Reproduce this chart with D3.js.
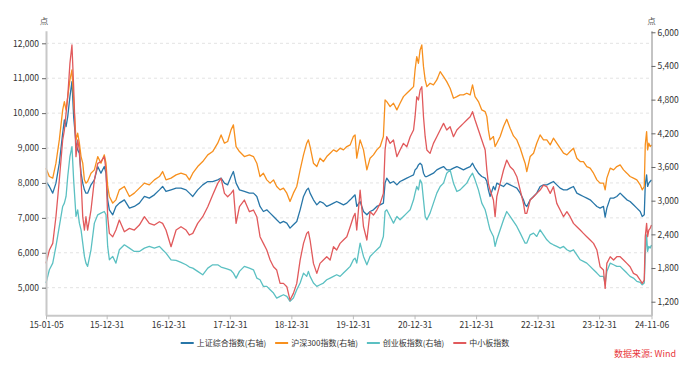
<!DOCTYPE html>
<html><head><meta charset="utf-8">
<script src="https://cdn.jsdelivr.net/npm/d3@7"></script>
<style>body{margin:0;background:#fff} text{font-family:"Noto Sans CJK SC","Noto Sans",sans-serif}</style>
</head><body><svg id="c" width="693" height="367"></svg>
<script>
const dates=["2015-01-05","2015-01-25","2015-02-14","2015-03-05","2015-03-25","2015-04-14","2015-04-24","2015-05-04","2015-05-14","2015-05-27",
"2015-06-08","2015-06-18","2015-07-02","2015-07-12","2015-07-22","2015-08-01","2015-08-11","2015-08-21","2015-08-30","2015-09-09",
"2015-09-29","2015-10-19","2015-11-08","2015-11-27","2015-12-17","2015-12-27","2016-01-06","2016-01-16","2016-02-05","2016-02-24",
"2016-03-15","2016-04-14","2016-05-14","2016-06-12","2016-07-12","2016-08-11","2016-09-09","2016-10-09","2016-11-08","2016-11-27",
"2016-12-17","2017-01-16","2017-02-15","2017-03-16","2017-04-15","2017-05-05","2017-05-25","2017-06-23","2017-07-23","2017-08-22",
"2017-09-20","2017-10-20","2017-11-09","2017-11-29","2017-12-18","2018-01-07","2018-01-21","2018-02-06","2018-02-26","2018-03-27",
"2018-04-26",
"2018-05-20","2018-06-09","2018-06-28","2018-07-18","2018-08-07","2018-08-27","2018-09-16","2018-10-05","2018-10-25","2018-11-14",
"2018-12-04","2018-12-23","2019-01-12","2019-02-01","2019-02-21","2019-03-13","2019-04-01","2019-04-11","2019-04-21","2019-05-11",
"2019-05-31","2019-06-19","2019-07-09","2019-07-29","2019-08-18","2019-09-07","2019-09-26","2019-10-16","2019-11-05","2019-11-25",
"2019-12-15","2020-01-03","2020-01-13","2020-01-23","2020-02-12","2020-03-03","2020-03-23","2020-04-11","2020-05-01","2020-05-21",
"2020-06-10","2020-06-29","2020-07-09","2020-07-19","2020-08-08","2020-08-28","2020-09-17","2020-10-06","2020-10-26","2020-11-15",
"2020-12-05","2020-12-25","2021-01-03","2021-01-13","2021-01-23","2021-02-02","2021-02-12","2021-02-22","2021-03-04","2021-03-14",
"2021-04-02","2021-04-22","2021-05-12","2021-06-01","2021-06-21","2021-07-10","2021-07-30","2021-08-19",
"2021-09-08","2021-09-27","2021-10-17","2021-11-06","2021-11-26","2021-12-10","2021-12-25","2022-01-14","2022-02-03","2022-02-23",
"2022-03-05","2022-03-14","2022-03-24","2022-04-13","2022-04-23","2022-05-03","2022-05-23","2022-06-12","2022-07-01","2022-07-21",
"2022-08-10","2022-08-30","2022-09-19","2022-10-08","2022-10-18","2022-10-28","2022-11-17","2022-12-07","2022-12-26","2023-01-15",
"2023-02-04","2023-02-24","2023-03-16","2023-04-04","2023-04-24","2023-05-14","2023-06-03","2023-06-23","2023-07-12","2023-08-01",
"2023-08-21","2023-09-10","2023-09-29","2023-10-19","2023-11-08","2023-11-28","2023-12-18","2024-01-06","2024-01-26","2024-02-05",
"2024-02-15","2024-03-06","2024-03-26","2024-04-14","2024-05-04","2024-05-24","2024-06-13","2024-07-02","2024-07-22","2024-08-11",
"2024-08-31","2024-09-12","2024-09-24","2024-09-30","2024-10-08","2024-10-14","2024-10-21","2024-10-29","2024-11-06"];

// 上证综合指数 (right axis)
const sse=[3341,3253,3134,3312,3668,4202,4439,4320,4498,4854,
5121,4498,4024,3905,3846,3490,3312,3193,3134,3134,
3282,3371,3608,3490,3608,3490,3015,2837,2748,2897,
2956,3015,2867,2897,2956,3075,3045,3104,3193,3253,
3164,3193,3223,3223,3193,3134,3075,3193,3282,3341,
3341,3371,3401,3312,3282,3430,3519,3312,3193,3164,
3134,
3134,3075,2897,2807,2837,2778,2719,2659,2600,2630,
2600,2511,2570,2630,2837,3075,3193,3223,3134,3015,
2926,2986,2956,2897,2926,2956,2986,2956,2926,2956,
3015,3075,3104,2897,2986,2807,2748,2807,2837,2897,
2926,2956,3312,3401,3312,3341,3282,3341,3371,3401,
3430,3460,3549,3579,3638,3668,3638,3490,3430,3430,
3460,3490,3549,3579,3608,3549,3549,3579,
3608,3579,3549,3579,3608,3668,3579,3490,3430,3401,
3341,3193,3075,3253,3193,3312,3282,3253,3312,3282,
3253,3223,3134,3015,2926,2897,3015,3075,3134,3253,
3282,3282,3312,3341,3282,3223,3193,3193,3223,3253,
3134,3104,3075,3045,3015,2956,2897,2867,2897,2707,
2867,3045,3045,3075,3134,3075,3015,2986,2926,2867,
2807,2719,2748,3282,3460,3253,3312,3341,3371];

// 沪深300指数 (right axis)
const csi300=[3579,3430,3401,3668,4083,4617,4765,4617,4854,5151,
5329,4795,4083,4202,4024,3786,3668,3371,3312,3341,
3490,3549,3786,3668,3816,3668,3253,3075,2956,3015,
3193,3253,3075,3134,3223,3312,3282,3371,3430,3519,
3371,3401,3460,3490,3460,3371,3490,3608,3697,3816,
3875,4024,4172,4024,4054,4261,4350,3964,3875,3786,
3816,
3786,3668,3430,3490,3371,3312,3371,3253,3193,3223,
3134,2986,3134,3253,3549,3816,4024,4083,3964,3668,
3608,3757,3697,3786,3846,3905,3875,3935,3905,3964,
3994,4142,4172,3757,4083,3905,3549,3757,3816,3905,
3964,4142,4795,4765,4676,4736,4617,4736,4854,4914,
4973,5032,5329,5566,5448,5685,5774,5388,5151,5032,
5092,5062,5151,5299,5210,5121,5003,4825,
4854,4884,4884,4914,4884,5062,4854,4765,4617,4587,
4498,4261,4083,4142,3964,4024,4142,4320,4451,4291,
4154,4083,3935,3757,3668,3519,3786,3846,4024,4172,
4083,4083,3994,4113,4024,3935,3846,3816,3875,3935,
3757,3697,3697,3608,3579,3490,3371,3312,3312,3193,
3401,3579,3549,3608,3638,3549,3490,3430,3401,3371,
3282,3193,3253,3994,4231,3905,4024,3964,3994];

// 创业板指数 (right axis)
const chinext=[1532,1769,1888,2185,2541,2897,2956,3075,3430,3786,
3964,3371,2719,2837,2600,2481,2244,2007,1888,1829,
2125,2600,2748,2778,2807,2748,2185,1947,2007,1888,
2125,2214,2155,2096,2096,2155,2185,2155,2185,2125,
2066,1947,1935,1900,1858,1817,1799,1740,1680,1799,
1858,1858,1817,1799,1781,1757,1710,1621,1740,1829,
1799,
1769,1621,1591,1473,1473,1413,1354,1265,1295,1324,
1295,1206,1265,1413,1532,1710,1651,1740,1651,1532,
1473,1502,1532,1591,1621,1651,1680,1651,1710,1769,
1829,1947,1977,1888,2244,2007,1858,2007,2066,2125,
2185,2363,2807,2837,2719,2600,2719,2659,2719,2778,
2837,3015,3134,3253,3193,3371,3312,3015,2719,2659,
2778,2956,3134,3253,3312,3490,3549,3312,
3164,3193,3253,3312,3430,3490,3371,3193,2956,2837,
2719,2600,2481,2363,2185,2303,2481,2659,2807,2719,
2630,2541,2422,2303,2244,2244,2392,2422,2363,2481,
2392,2303,2244,2214,2185,2155,2185,2125,2096,2125,
2036,1947,1918,1888,1829,1769,1710,1651,1651,1520,
1740,1888,1858,1829,1829,1769,1710,1651,1621,1562,
1544,1502,1532,2036,2392,2096,2185,2155,2210];

// 中小板指数 (left axis)
const sme=[5696,6078,6269,7033,8084,9230,9516,9994,10471,11426,
11951,10757,8752,9230,8943,8084,7033,6651,7033,6651,
7224,8084,8561,8609,8752,8370,7033,6556,6460,6651,
6938,6603,6699,6651,6794,7033,6842,6794,6890,6842,
6651,6174,6651,6747,6651,6508,6556,6842,7033,7320,
7654,7988,8131,7702,7606,7702,7797,6842,7320,7511,
7176,
7224,7033,6460,6269,6078,5791,5601,5505,5123,5123,
5028,4645,4837,5123,5791,6269,6556,6603,6365,5696,
5410,5696,5791,5887,5791,6174,6078,6269,6365,6460,
6747,7033,7129,6651,7797,6747,6365,7176,7081,7224,
7415,7702,8943,9325,9134,9230,8752,8943,9134,9038,
9325,9516,9898,10471,10375,10662,10757,9898,9325,8943,
8848,9134,9325,9516,9707,9516,9612,9325,
9516,9612,9707,9803,9898,10041,9803,9516,9230,8943,
8370,7988,7797,7511,7033,7606,7988,8370,8656,8466,
8370,8179,7797,7415,7129,7129,7511,7606,7702,7797,
7940,7893,7702,7893,7415,7224,7033,7176,7033,6842,
6747,6651,6556,6460,6365,6269,6078,5601,5505,4980,
5696,5887,5791,5887,5887,5791,5696,5601,5410,5362,
5218,5123,5218,6460,6842,6460,6651,6699,6794];

const xTickDates=["2015-01-05","2015-12-31","2016-12-31","2017-12-31","2018-12-31","2019-12-31","2020-12-31","2021-12-31","2022-12-31","2023-12-31","2024-11-06"];
const leftTicks=[5000,6000,7000,8000,9000,10000,11000,12000];
const rightTicks=[1200,1800,2400,3000,3600,4200,4800,5400,6000];
const seriesNames=["上证综合指数(右轴)","沪深300指数(右轴)","创业板指数(右轴)","中小板指数"];
const seriesColors=["#2876a8","#f7901e","#5bc0c2","#e15a5c"];
const unitLabel="点";
const sourceText="数据来源: Wind";

const parse=d3.timeParse("%Y-%m-%d");
const svg=d3.select("#c");
const L=46, R=651.5, T=30.7, B=315.3;
const x=d3.scaleTime().domain([parse(dates[0]),parse(dates[dates.length-1])]).range([L,R]);
const yL=d3.scaleLinear().domain([4209,12361]).range([B,T]);
const yR=d3.scaleLinear().domain([958,6028]).range([B,T]);

// grid
svg.append("g").selectAll("line").data(leftTicks).join("line")
  .attr("x1",L).attr("x2",R).attr("y1",d=>yL(d)).attr("y2",d=>yL(d))
  .attr("stroke","#e3e3e3").attr("stroke-width",1).attr("stroke-dasharray","3,3");

// series
const seriesData=[sse,csi300,chinext,sme];
const scales=[yR,yR,yR,yL];
seriesData.forEach((vals,i)=>{
  const line=d3.line().x((d,j)=>x(parse(dates[j]))).y(d=>scales[i](d));
  svg.append("path").datum(vals).attr("d",line).attr("fill","none")
    .attr("stroke",seriesColors[i]).attr("stroke-width",1.3).attr("stroke-linejoin","round");
});

// left axis
const gL=svg.append("g").attr("transform",`translate(${L},0)`)
  .call(d3.axisLeft(yL).tickValues(leftTicks).tickFormat(d3.format(",")).tickSize(4).tickSizeOuter(0).tickPadding(3));
gL.select(".domain").attr("stroke","#c8c8c8").attr("stroke-width",2);
gL.selectAll(".tick line").attr("stroke","#666");
gL.selectAll("text").attr("font-size",8.5).attr("fill","#333");

// right axis
const gR=svg.append("g").attr("transform",`translate(${R},0)`)
  .call(d3.axisRight(yR).tickValues(rightTicks).tickFormat(d3.format(",")).tickSize(4).tickSizeOuter(0).tickPadding(2));
gR.select(".domain").attr("stroke","#888").attr("stroke-width",1);
gR.selectAll(".tick line").attr("stroke","#666");
gR.selectAll("text").attr("font-size",8.5).attr("fill","#333");

// bottom axis
const gB=svg.append("g").attr("transform",`translate(0,${B})`)
  .call(d3.axisBottom(x).tickValues(xTickDates.map(parse)).tickFormat(d3.timeFormat("%y-%m-%d")).tickSize(4).tickSizeOuter(0).tickPadding(3));
gB.select(".domain").attr("stroke","#c8c8c8").attr("stroke-width",2);
gB.selectAll(".tick line").attr("stroke","#bbb");
gB.selectAll("text").attr("font-size",8.5).attr("fill","#333");

// unit labels
svg.append("text").attr("x",L-2).attr("y",24).attr("text-anchor","middle").attr("font-size",8.5).attr("fill","#555").text(unitLabel);
svg.append("text").attr("x",R).attr("y",24).attr("text-anchor","middle").attr("font-size",8.5).attr("fill","#555").text(unitLabel);

// legend
const lg=svg.append("g");
let cx=0;
const items=[];
seriesNames.forEach((n,i)=>{
  const g=lg.append("g").attr("transform",`translate(${cx},0)`);
  g.append("line").attr("x1",0).attr("x2",13).attr("y1",0).attr("y2",0).attr("stroke",seriesColors[i]).attr("stroke-width",2);
  const t=g.append("text").attr("x",16).attr("y",3).attr("font-size",8).attr("fill","#333").text(n);
  const w=t.node().getComputedTextLength();
  cx+=16+w+9;
});
const totalW=cx-9;
lg.attr("transform",`translate(${345-totalW/2},343)`);

// source
svg.append("text").attr("x",676).attr("y",357).attr("text-anchor","end").attr("font-size",9).attr("fill","#e8383d").text(sourceText);
</script></body></html>
